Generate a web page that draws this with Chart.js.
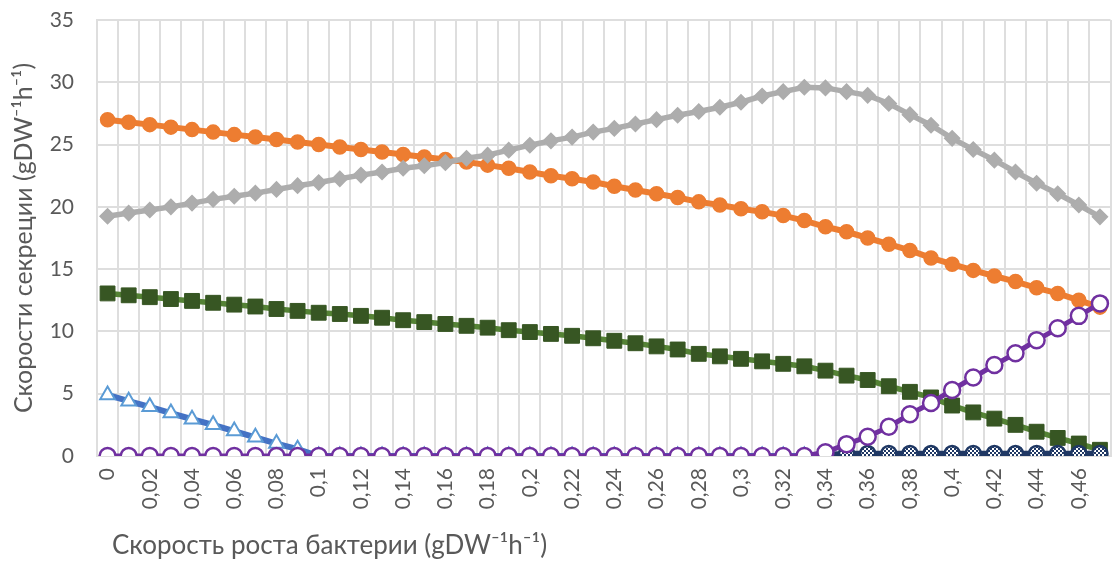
<!DOCTYPE html>
<html>
<head>
<meta charset="utf-8">
<script src="https://cdn.jsdelivr.net/npm/chart.js@4"></script>
<style>
  html, body { margin: 0; padding: 0; background: #fff; overflow: hidden; }
  #wrap { width: 1122px; height: 563px; position: relative; }
</style>
</head>
<body>
<div id="wrap"><canvas id="c"></canvas></div>
<script>
// Categories: growth rate 0 .. 0.47
const categories = ["0","0,01","0,02","0,03","0,04","0,05","0,06","0,07","0,08","0,09",
  "0,1","0,11","0,12","0,13","0,14","0,15","0,16","0,17","0,18","0,19",
  "0,2","0,21","0,22","0,23","0,24","0,25","0,26","0,27","0,28","0,29",
  "0,3","0,31","0,32","0,33","0,34","0,35","0,36","0,37","0,38","0,39",
  "0,4","0,41","0,42","0,43","0,44","0,45","0,46","0,47"];

const orangeSeries = [27.0,26.8,26.6,26.4,26.2,26.0,25.8,25.6,25.4,25.2,
  25.0,24.8,24.6,24.4,24.2,24.0,23.8,23.6,23.35,23.1,
  22.8,22.5,22.25,22.0,21.65,21.35,21.05,20.75,20.4,20.15,
  19.85,19.6,19.3,18.9,18.4,18.0,17.5,17.0,16.5,15.9,
  15.4,14.9,14.45,14.0,13.5,13.05,12.5,11.95];

const graySeries = [19.25,19.5,19.75,20.0,20.3,20.6,20.85,21.1,21.4,21.7,
  21.95,22.25,22.55,22.8,23.1,23.3,23.55,23.9,24.15,24.55,
  24.95,25.3,25.6,26.0,26.3,26.65,27.0,27.35,27.65,28.0,
  28.4,28.9,29.25,29.6,29.55,29.25,28.95,28.3,27.4,26.55,
  25.5,24.6,23.75,22.8,21.9,21.05,20.15,19.2];

const greenSeries = [13.05,12.9,12.75,12.6,12.45,12.3,12.15,12.0,11.8,11.65,
  11.5,11.4,11.25,11.1,10.9,10.75,10.6,10.45,10.3,10.1,
  9.95,9.8,9.65,9.45,9.25,9.05,8.8,8.55,8.2,8.0,
  7.8,7.6,7.4,7.2,6.85,6.45,6.1,5.6,5.15,4.7,
  4.05,3.5,3.0,2.5,1.95,1.45,1.0,0.5];

const blueSeries = [4.9,4.4,3.95,3.45,2.95,2.5,2.0,1.5,1.0,0.55,
  0,0,0,0,0,0,0,0,0,0,
  0,0,0,0,0,0,0,0,0,0,
  0,0,0,0,0,0,0,0,0,0,
  0,0,0,0,0,0,0,0];

const purpleSeries = [0,0,0,0,0,0,0,0,0,0,
  0,0,0,0,0,0,0,0,0,0,
  0,0,0,0,0,0,0,0,0,0,
  0,0,0,0,0.3,0.95,1.55,2.35,3.35,4.25,
  5.3,6.3,7.3,8.25,9.3,10.25,11.25,12.25];

const navySeries = [null,null,null,null,null,null,null,null,null,null,
  null,null,null,null,null,null,null,null,null,null,
  null,null,null,null,null,null,null,null,null,null,
  null,null,null,null,0.1,0.2,0.2,0.2,0.2,0.2,
  0.2,0.2,0.2,0.2,0.2,0.2,0.2,0.2];

const yTicks = [0,5,10,15,20,25,30,35];
const xTitle = "Скорость роста бактерии (gDW\u207B\u00B9h\u207B\u00B9)";
const yTitle = "Скорости секреции (gDW\u207B\u00B9h\u207B\u00B9)";

// checker pattern for navy markers
function makePattern() {
  const pc = document.createElement('canvas');
  pc.width = 4; pc.height = 4;
  const p = pc.getContext('2d');
  p.fillStyle = '#1F3864'; p.fillRect(0,0,4,4);
  p.fillStyle = '#ffffff';
  p.fillRect(0,0,2,2); p.fillRect(2,2,2,2);
  return document.getElementById('c').getContext('2d').createPattern(pc, 'repeat');
}
const navyPattern = makePattern();

const FONT = "Lato, 'Open Sans', sans-serif";
const TXT = '#595959';

const shiftTitle = {
  id: 'shiftTitle',
  afterLayout(chart) {
    const xs = chart.scales.x;
    if (!xs._patched) {
      const orig = xs.drawTitle;
      xs.drawTitle = function(area) {
        const ctx = this.ctx;
        ctx.save(); ctx.translate(15, 0);
        orig.call(this, area);
        ctx.restore();
      };
      xs._patched = true;
    }
  }
};

new Chart(document.getElementById('c'), {
  type: 'line',
  data: {
    labels: categories,
    datasets: [
      { label: 'orange', data: orangeSeries, order: 6,
        borderColor: '#ED7D31', backgroundColor: '#ED7D31', borderWidth: 6,
        pointStyle: 'circle', pointRadius: 7, pointBackgroundColor: '#ED7D31', pointBorderColor: '#ED7D31', pointBorderWidth: 1.5 },
      { label: 'gray', data: graySeries, order: 5,
        borderColor: '#ADADAD', backgroundColor: '#ADADAD', borderWidth: 5.5,
        pointStyle: 'rectRot', pointRadius: 7.5, pointBackgroundColor: '#ADADAD', pointBorderColor: '#ADADAD', pointBorderWidth: 1.5 },
      { label: 'green', data: greenSeries, order: 4,
        borderColor: '#548235', backgroundColor: '#375623', borderWidth: 5.5,
        pointStyle: 'rect', pointRadius: 10.5, pointBackgroundColor: '#375623', pointBorderColor: '#375623', pointBorderWidth: 1 },
      { label: 'blue', data: blueSeries, order: 3,
        borderColor: '#4472C4', backgroundColor: '#ffffff', borderWidth: 6,
        pointStyle: 'triangle', pointRadius: 8.5, pointBackgroundColor: '#ffffff', pointBorderColor: '#5B9BD5', pointBorderWidth: 2 },
      { label: 'navy', data: navySeries, order: 2,
        borderColor: '#203864', backgroundColor: '#203864', borderWidth: 5.5,
        pointStyle: 'circle', pointRadius: 7.5, pointBackgroundColor: navyPattern, pointBorderColor: '#1F3864', pointBorderWidth: 2.5 },
      { label: 'purple', data: purpleSeries, order: 1,
        borderColor: '#7030A0', backgroundColor: '#ffffff', borderWidth: 5,
        pointStyle: 'circle', pointRadius: 8, pointBackgroundColor: '#ffffff', pointBorderColor: '#7030A0', pointBorderWidth: 2.5 }
    ]
  },
  options: {
    responsive: true,
    maintainAspectRatio: false,
    animation: false,
    layout: { padding: { top: 20, left: 0, right: 1, bottom: 0 } },
    plugins: { legend: { display: false }, tooltip: { enabled: false } },
    elements: { line: { tension: 0 } },
    scales: {
      x: {
        type: 'category',
        offset: true,
        grid: { offset: true, color: '#DEDEDE', lineWidth: 2, drawTicks: false },
        border: { color: '#DEDEDE', width: 2 },
        ticks: {
          autoSkip: false, maxRotation: 90, minRotation: 90, padding: 12,
          color: TXT, font: { family: FONT, size: 21 },
          callback: function(v, i) { return i % 2 === 0 ? categories[i] : ''; }
        },
        title: { display: true, text: xTitle, align: 'start', color: TXT,
          font: { family: FONT, size: 26 }, padding: { top: 0, bottom: 2 } },
        afterFit(s) { s.height = 107; s.paddingLeft = 0; s.paddingRight = 0; }
      },
      y: {
        min: 0, max: 35,
        afterBuildTicks(s) { s.ticks = yTicks.map(v => ({ value: v })); },
        grid: { color: '#DEDEDE', lineWidth: 2, drawTicks: false },
        border: { color: '#DEDEDE', width: 2 },
        ticks: { padding: 23, color: TXT, font: { family: FONT, size: 21 } },
        title: { display: true, text: yTitle, color: TXT,
          font: { family: FONT, size: 25 }, padding: { top: 9, bottom: 0 } },
        afterFit(s) { s.width = 97; s.paddingTop = 0; s.paddingBottom = 0; }
      }
    }
  },
  plugins: [shiftTitle]
});
</script>
</body>
</html>
